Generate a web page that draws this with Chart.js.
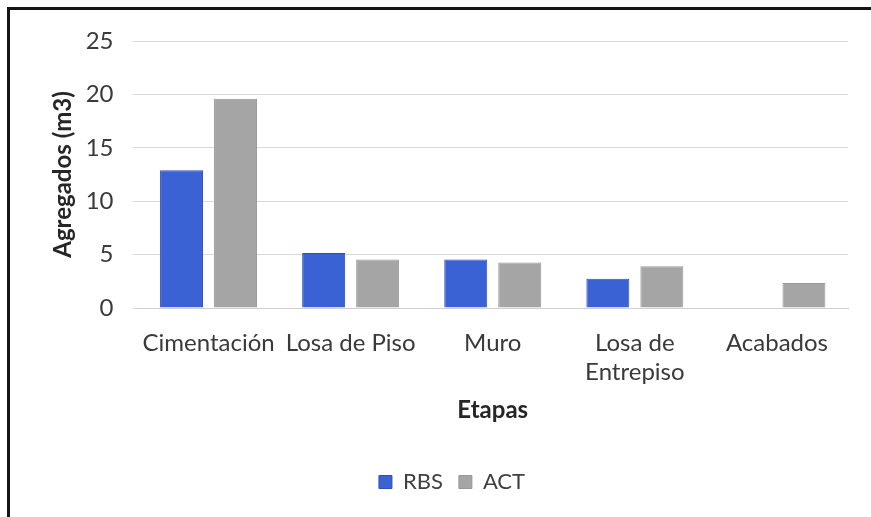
<!DOCTYPE html>
<html>
<head>
<meta charset="utf-8">
<script src="https://cdn.jsdelivr.net/npm/chart.js@4"></script>
<style>
  html, body { margin: 0; padding: 0; background: #fff; }
  #wrap { position: relative; width: 871px; height: 517px; overflow: hidden; }
  #frame { position: absolute; left: 7px; top: 7px; right: -10px; bottom: -10px;
           border-top: 3px solid #151515; border-left: 3px solid #151515; pointer-events: none; }
  canvas { position: absolute; left: 0; top: 0; }
</style>
</head>
<body>
<div id="wrap">
  <canvas id="c" width="871" height="517"></canvas>
  <div id="frame"></div>
</div>
<script>
// Etapas de obra y volumen de agregados por sistema
const categories = ['Cimentación', 'Losa de Piso', 'Muro', ['Losa de', 'Entrepiso'], 'Acabados'];
const rbsValues = [12.9, 5.15, 4.55, 2.75, 0];
const actValues = [19.6, 4.55, 4.25, 3.9, 2.35];
const yTicks = [0, 5, 10, 15, 20, 25];

const FONT = 'Lato, "Open Sans", sans-serif';

// nudge the legend row a little to the right of the canvas centre
const legendShift = {
  id: 'legendShift',
  afterLayout(chart) {
    if (chart.legend) { chart.legend.left += 28; chart.legend.right += 28; }
  }
};

new Chart(document.getElementById('c'), {
  type: 'bar',
  data: {
    labels: categories,
    datasets: [
      { label: 'RBS', data: rbsValues, backgroundColor: '#3b62d4', borderColor: '#2d50bb', borderWidth: 1 },
      { label: 'ACT', data: actValues, backgroundColor: '#a5a5a5', borderColor: '#979797', borderWidth: 1 }
    ]
  },
  plugins: [legendShift],
  options: {
    responsive: false,
    animation: false,
    devicePixelRatio: 1,
    categoryPercentage: 0.76,
    barPercentage: 0.796,
    layout: { padding: { left: 0, top: 41, right: 23, bottom: 14 } },
    plugins: {
      tooltip: { enabled: false },
      legend: {
        position: 'bottom',
        labels: {
          boxWidth: 13, boxHeight: 13, padding: 16,
          color: '#404040',
          font: { family: FONT, size: 22 }
        }
      }
    },
    scales: {
      x: {
        grid: { display: false, drawTicks: false },
        border: { display: true, color: '#d0d0d0', width: 1 },
        ticks: {
          color: '#3a3a3a', padding: 21, maxRotation: 0, autoSkip: false,
          font: { family: FONT, size: 24, lineHeight: 1.2 }
        },
        title: {
          display: true, text: 'Etapas', color: '#262626',
          font: { family: FONT, size: 24, weight: 'bold' },
          padding: { top: 0, bottom: 30 }
        },
        afterFit: (s) => { s.height = 147; }
      },
      y: {
        min: 0, max: 25,
        afterBuildTicks: (s) => { s.ticks = yTicks.map(v => ({ value: v })); },
        grid: { color: '#d9d9d9', lineWidth: 1, tickLength: 5 },
        border: { display: false },
        ticks: {
          color: '#3a3a3a', padding: 19,
          font: { family: FONT, size: 24 }
        },
        title: {
          display: true, text: 'Agregados (m3)', color: '#262626',
          font: { family: FONT, size: 24, weight: 'bold' },
          padding: { top: 49, bottom: 0 }
        },
        afterFit: (s) => { s.width = 137.5; }
      }
    }
  }
});
</script>
</body>
</html>
